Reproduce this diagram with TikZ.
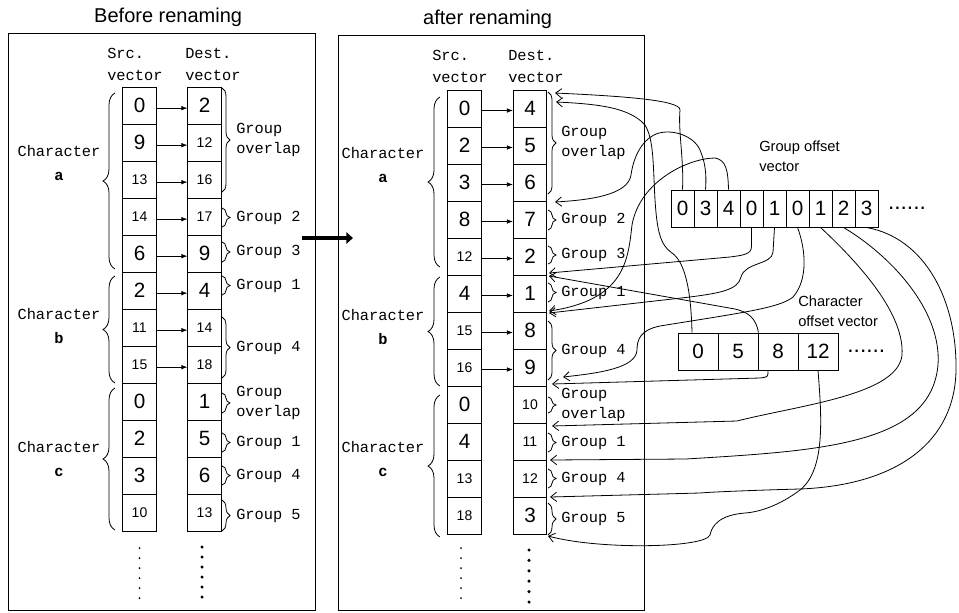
\documentclass[tikz,border=0pt]{standalone}
\usepackage{fontspec}
\setmainfont{Liberation Sans}
\setmonofont{Liberation Mono}
\usetikzlibrary{arrows.meta,positioning,decorations.pathreplacing}

\newcommand{\bignum}{\fontsize{15.5}{17}\selectfont}
\newcommand{\smallnum}{\fontsize{10.5}{12}\selectfont}
\newcommand{\cellnum}[1]{\ifnum#1>9 {\smallnum#1}\else{\bignum#1}\fi}

\tikzset{
  cell/.style={
    rectangle,
    draw,
    line width=0.7pt,
    inner sep=0pt,
    minimum width=25pt,
    minimum height=27.75pt
  },
  gocell/.style={cell, minimum width=17.25pt, font=\bignum},
  cocell/.style={cell, minimum width=30pt, font=\bignum},
  panel/.style={rectangle, draw, line width=0.7pt, inner sep=0pt},
  title/.style={font=\fontsize{15}{18}\selectfont, inner sep=0pt},
  hdr/.style={font=\ttfamily\fontsize{11.5}{16.5}\selectfont, align=left, inner sep=0pt, anchor=west},
  chr/.style={font=\ttfamily\fontsize{11.5}{18}\selectfont, align=center, inner sep=0pt},
  grp/.style={font=\ttfamily\fontsize{11.5}{15}\selectfont, align=left, inner sep=0pt, anchor=west},
  veclabel/.style={font=\fontsize{11}{15}\selectfont, align=left, inner sep=0pt, anchor=west},
  more/.style={font=\fontsize{17}{17}\selectfont, inner sep=0pt},
  chrbrace/.style={decorate, decoration={brace, amplitude=9pt}, line width=0.6pt},
  grpbrace/.style={decorate, decoration={brace, amplitude=6pt}, line width=0.6pt},
  pass/.style={-{Latex[length=4.5pt,width=3.5pt]}, line width=0.6pt},
  link/.style={-{Straight Barb[length=4.5pt,width=7pt]}, line width=0.6pt},
  bigarrow/.style={-{Triangle[length=5pt,width=8.5pt]}, line width=2.3pt}
}

\begin{document}
\begin{tikzpicture}[x=0.75pt, y=-0.75pt]
  \useasboundingbox (0,0) rectangle (959,612);

  % the two panels
  \node[panel, minimum width=230.25pt, minimum height=432.75pt] (before) at (161.5,321.5) {};
  \node[panel, minimum width=229.5pt, minimum height=431.25pt] (after) at (491,322.5) {};
  \node[title, above=4.5pt of before.north, xshift=5pt] (tbefore) {Before renaming};
  \node[title, above=4.5pt of after.north, xshift=-2.5pt] (tafter) {after renaming};

  % before renaming
  \node[hdr] (lsh) at (107,64) {Src.\\vector};
  \node[hdr] (ldh) at (185,64) {Dest.\\vector};
  \foreach \v [count=\i from 0] in {0,9,13,14,6,2,11,15,0,2,3,10}
    \node[cell] (ls\i) at (139.5,{105.5+37*\i}) {\cellnum{\v}};
  \foreach \v [count=\i from 0] in {2,12,16,17,9,4,14,18,1,5,6,13}
    \node[cell] (ld\i) at (204.5,{105.5+37*\i}) {\cellnum{\v}};
  \foreach \i in {0,...,7}
    \draw[pass] ([yshift=-2pt]ls\i.east) -- ([yshift=-2pt]ld\i.west);
  \foreach \a/\b/\c/\m in {93/269/163.5/a, 276/383/326.5/b, 388/530/459.5/c} {
    \draw[chrbrace] (115,\b) -- (115,\a);
    \node[chr] (lc\m) at (59,\c) {Character\\\textbf{\m}};
  }
  \foreach \a/\b/\t in {88/192/{Group\\overlap}, 208/227/{Group 2}, 242/262/{Group 3},
      276/295/{Group 1}, 317/378/{Group 4}, 393/413/{Group\\overlap},
      433/452/{Group 1}, 466/485/{Group 4}, 500/531/{Group 5}} {
    \draw[grpbrace] (222,\a) -- (222,\b);
    \node[grp] (lg\a) at (236,{(\a+\b)/2}) {\t};
  }
  \foreach \k in {0,...,5} {
    \fill (139.5,{548+10*\k}) circle (0.75pt);
    \fill (202,{547+10*\k}) circle (1.3pt);
  }

  % after renaming
  \node[hdr] (msh) at (432,66.5) {Src.\\vector};
  \node[hdr] (mdh) at (508,66.5) {Dest.\\vector};
  \foreach \v [count=\i from 0] in {0,2,3,8,12,4,15,16,0,4,13,18}
    \node[cell] (ms\i) at (464.5,{108.5+37*\i}) {\cellnum{\v}};
  \foreach \v [count=\i from 0] in {4,5,6,7,2,1,8,9,10,11,12,3}
    \node[cell] (md\i) at (530,{108.5+37*\i}) {\cellnum{\v}};
  \foreach \i in {0,...,7}
    \draw[pass] ([yshift=-1.5pt]ms\i.east) -- ([yshift=-1.5pt]md\i.west);
  \foreach \a/\b/\c/\m in {97/267/165/a, 277/386/327.5/b, 395/537/459.5/c} {
    \draw[chrbrace] (440,\b) -- (440,\a);
    \node[chr] (mc\m) at (383,\c) {Character\\\textbf{\m}};
  }
  \foreach \a/\b/\t in {92/194/{Group\\overlap}, 210/230/{Group 2}, 246/264/{Group 3},
      283/302/{Group 1}, 321/380/{Group 4}, 397/413/{Group\\overlap},
      433/452/{Group 1}, 469/488/{Group 4}, 503/535/{Group 5}} {
    \draw[grpbrace] (548,\a) -- (548,\b);
    \node[grp] (mg\a) at (561,{(\a+\b)/2}) {\t};
  }
  \foreach \k in {0,...,5} {
    \fill (461,{548+10*\k}) circle (0.75pt);
    \fill (529,{550+10.4*\k}) circle (1.3pt);
  }

  \coordinate (mvA) at (302,238);
  \coordinate (mvB) at (353,238);
  \draw[bigarrow] (mvA) -- (mvB);

  % offset vectors
  \foreach \v [count=\i from 1] in {0,3,4,0,1,0,1,2,3}
    \node[gocell] (go\i) at ({671+23*\i-11.5},208.5) {\v};
  \node[more, right=7pt of go9] (gomore) {......};
  \node[veclabel] (golbl) at (759,156) {Group offset\\vector};
  \foreach \v [count=\i from 0] in {0,5,8,12}
    \node[cocell] (co\i) at ({698+40*\i},351.5) {\v};
  \node[more, right=6.5pt of co3] (comore) {......};
  \node[veclabel] (colbl) at (798,311) {Character\\offset vector};

  % where the offsets point
  \coordinate (tA) at (555,93);
  \coordinate (tD) at (556,102);
  \coordinate (tB) at (555,202);
  \coordinate (tE) at (549,273);
  \coordinate (tF) at (549,276);
  \coordinate (tC) at (549,311);
  \coordinate (tG) at (549,313);
  \coordinate (tH) at (563,377);
  \coordinate (tI) at (552,384);
  \coordinate (tJ) at (552,426);
  \coordinate (tK) at (550,460);
  \coordinate (tL) at (550,497);
  \coordinate (tM) at (548,536);

  \draw[link] (go1.north) .. controls (684,160) and (678,130) .. (680,110)
    .. controls (681,100) and (620,96) .. (tA);
  \draw[link] (go2.north) .. controls (707,170) and (704,160) .. (700,150)
    .. controls (694,136) and (672,128) .. (656,134)
    .. controls (640,141) and (633,160) .. (631,175)
    .. controls (628,195) and (590,200) .. (tB);
  \draw[link] (go3.north) .. controls (728,170) and (726,160) .. (715,158)
    .. controls (690,158) and (640,180) .. (632,225)
    .. controls (628,260) and (625,300) .. (tC);
  \draw[link] ([xshift=-4.5pt]co0.north) .. controls (691,290) and (685,262) .. (672,253)
    .. controls (660,245) and (657,230) .. (655,200)
    .. controls (653,165) and (654,140) .. (645,125)
    .. controls (630,108) and (600,104) .. (tD);
  \draw[link] (go4.south) -- (751.5,246) .. controls (751.5,254) and (745,255) .. (730,257) -- (tE);
  \draw[link] (co1.north east) .. controls (756,318) and (748,312) .. (735,309) -- (tF);
  \draw[link] (go5.south) -- (773,252) .. controls (772,265) and (745,262) .. (741,277)
    .. controls (738,290) and (720,293) .. (690,297) -- (tG);
  \draw[link] (go6.south) .. controls (806,250) and (808,280) .. (793,297)
    .. controls (780,308) and (740,313) .. (660,326)
    .. controls (640,330) and (637,340) .. (637,350)
    .. controls (636,368) and (600,373) .. (tH);
  \draw[link] ([xshift=-7.5pt]co2.south) .. controls (768,377) .. (760,378) -- (tI);
  \draw[link] (go7.south) .. controls (850,255) and (905,310) .. (902,355)
    .. controls (898,395) and (800,405) .. (737,421) -- (tJ);
  \draw[link] (go8.south) .. controls (890,255) and (942,310) .. (938,365)
    .. controls (933,420) and (880,440) .. (800,450)
    .. controls (760,455) and (700,458) .. (686,459) -- (tK);
  \draw[link] (go9.south) .. controls (925,238) and (957,300) .. (956,370)
    .. controls (955,440) and (900,485) .. (800,489)
    .. controls (760,490) and (710,492) .. (700,493) -- (tL);
  \draw[link] (co3.south) .. controls (822,420) and (825,470) .. (800,490)
    .. controls (780,505) and (760,512) .. (745,513)
    .. controls (720,515) and (712,525) .. (710,535)
    .. controls (705,548) and (600,550) .. (tM);
\end{tikzpicture}
\end{document}
